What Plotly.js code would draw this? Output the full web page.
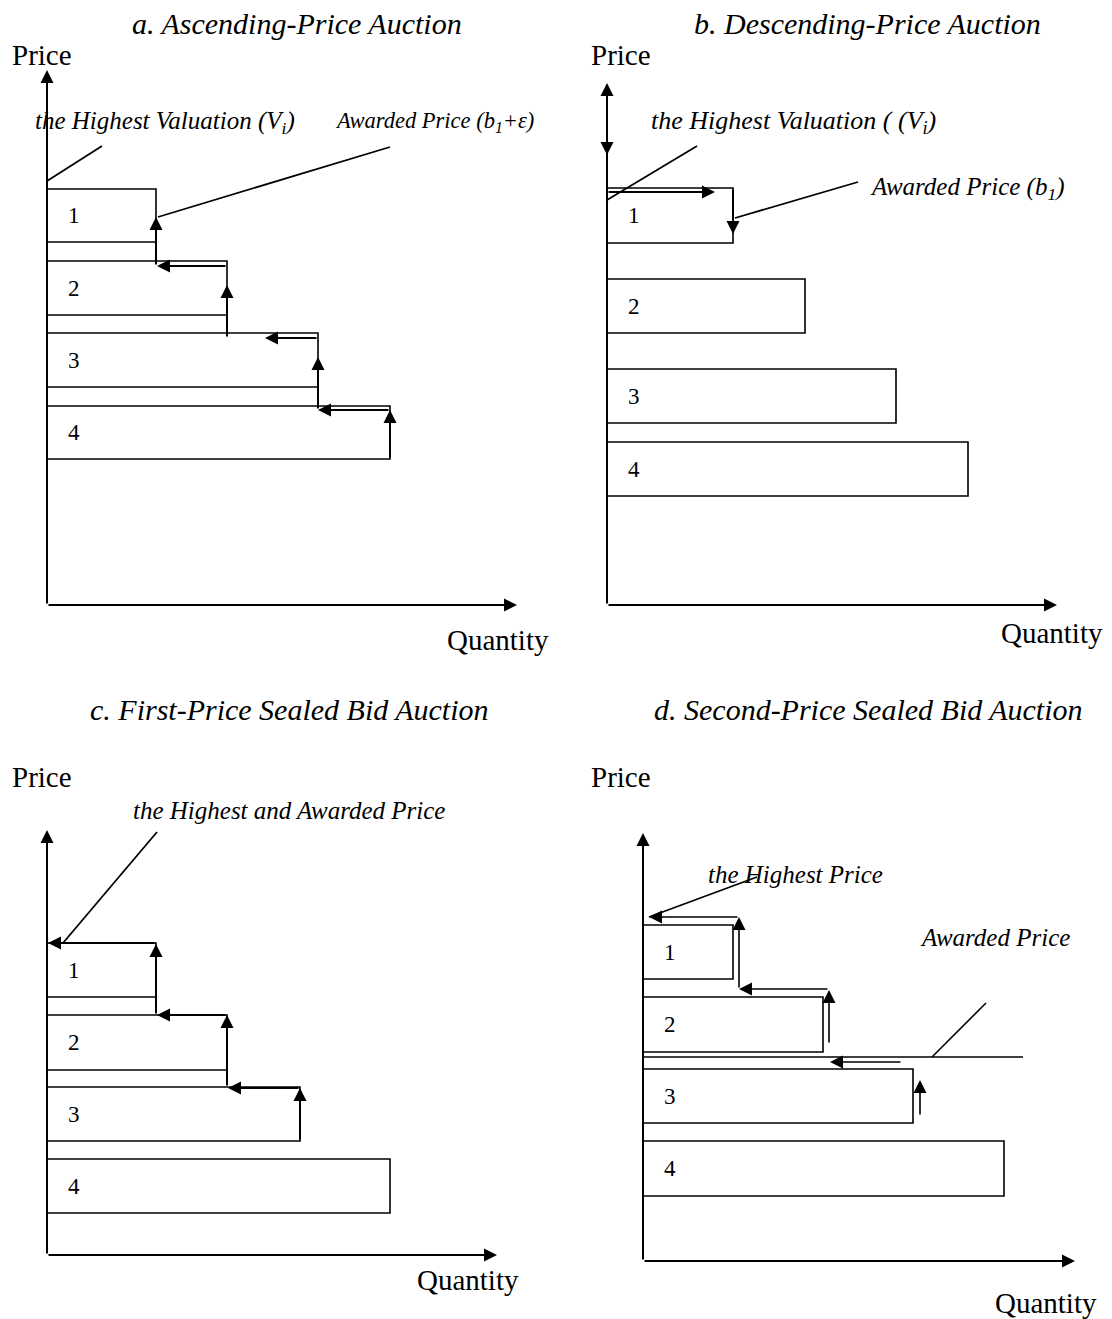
<!DOCTYPE html>
<html><head><meta charset="utf-8">
<script src="https://cdn.plot.ly/plotly-3.0.1.min.js"></script>
<style>html,body{margin:0;padding:0;background:#fff}#chart{width:1112px;height:1319px}</style>
</head><body><div id="chart"></div>
<script>
// ---------- DATA (quantity / price units) ----------
const bidders = ['1','2','3','4'];
const titles = ['a. Ascending-Price Auction','b. Descending-Price Auction','c. First-Price Sealed Bid Auction','d. Second-Price Sealed Bid Auction'];
const yLabel = 'Price';
const xLabel = 'Quantity';

// a. Ascending-price
const aQty = [10.9, 18.0, 27.1, 34.3];
const aTop = [41.6, 34.4, 27.2, 19.9];
const aBot = [36.3, 29.0, 21.8, 14.6];
const aUpX = [10.9, 18.0, 27.1, 34.3];
const aUpFrom = [33.9, 26.7, 19.5, 14.6];
const aUpTo = [38.8, 32.0, 24.8, 19.5];
const aLeftY = [33.9, 26.7, 19.5];
const aLeftFrom = [18.0, 27.1, 34.3];
const aLeftTo = [11.0, 21.8, 27.1];
const aAxisTop = 53.5, aAxisRight = 47.0;
const aLabels = ['the Highest Valuation (V<sub>i</sub>)', 'Awarded Price (b<sub>1</sub>+ε)'];

// b. Descending-price
const bQty = [12.6, 19.8, 28.9, 36.1];
const bTop = [41.7, 32.6, 23.6, 16.3];
const bBot = [36.2, 27.2, 18.2, 10.9];
const bRightY = 41.3, bRightTo = 10.8;
const bDownX = 12.6, bDownFrom = 41.7, bDownTo = 37.1;
const bAxisDownFrom = 46.4, bAxisDownTo = 45.0;
const bAxisTop = 52.2, bAxisRight = 45.0;
const bLabels = ['the Highest Valuation ( (V<sub>i</sub>)', 'Awarded Price (b<sub>1</sub>)'];

// c. First-price sealed bid
const cQty = [10.9, 18.0, 25.3, 34.3];
const cTop = [31.2, 24.0, 16.8, 9.6];
const cBot = [25.8, 18.5, 11.4, 4.2];
const cUpX = [10.9, 18.0, 25.3];
const cUpFrom = [24.0, 16.8, 11.4];
const cUpTo = [31.1, 24.0, 16.7];
const cLeftY = [31.2, 24.0, 16.7];
const cLeftFrom = [10.9, 18.0, 25.3];
const cLeftTo = [0.1, 11.0, 18.1];
const cAxisTop = 42.5, cAxisRight = 45.0;
const cLabels = ['the Highest and Awarded Price'];

// d. Second-price sealed bid
const dQty = [9.0, 18.0, 27.0, 36.1];
const dTop = [33.6, 26.4, 19.2, 12.0];
const dBot = [28.2, 20.9, 13.8, 6.5];
const dUpX = [9.6, 18.6, 27.7];
const dUpFrom = [27.2, 21.7, 14.5];
const dUpTo = [34.4, 27.1, 18.1];
const dLeftY = [34.4, 27.2, 19.9];
const dLeftFrom = [9.6, 18.6, 25.9];
const dLeftTo = [0.6, 9.6, 18.7];
const dAwardY = 20.4, dAwardEnd = 38.0;
const dAxisTop = 42.8, dAxisRight = 43.2;
const dLabels = ['the Highest Price', 'Awarded Price'];

// ---------- LAYOUT FRAMES ----------
const W = 1112, H = 1319, S = 10;
const frames = [
  {ax:'x',  ay:'y',  px:[0,556],    py:[0,659],    ox:47,  oy:605},
  {ax:'x2', ay:'y2', px:[556,1112], py:[0,659],    ox:607, oy:605},
  {ax:'x3', ay:'y3', px:[0,556],    py:[659,1319], ox:47,  oy:1255},
  {ax:'x4', ay:'y4', px:[556,1112], py:[659,1319], ox:643, oy:1261}
];
const FONT = 'Liberation Serif, Times New Roman, serif';
const traces = [], annotations = [];
const layout = {
  width: W, height: H, margin:{l:0,r:0,t:0,b:0},
  paper_bgcolor:'#fff', plot_bgcolor:'rgba(0,0,0,0)', showlegend:false,
  annotations: annotations
};
frames.forEach((f,i)=>{
  const n = i===0 ? '' : String(i+1);
  layout['xaxis'+n] = {domain:[f.px[0]/W, f.px[1]/W], range:[(f.px[0]-f.ox)/S, (f.px[1]-f.ox)/S],
    visible:false, fixedrange:true, anchor:'y'+n};
  layout['yaxis'+n] = {domain:[1-f.py[1]/H, 1-f.py[0]/H], range:[(f.oy-f.py[1])/S, (f.oy-f.py[0])/S],
    visible:false, fixedrange:true, anchor:'x'+n};
});

function line(f, xs, ys, w){
  traces.push({type:'scatter', mode:'lines', x:xs, y:ys, xaxis:f.ax, yaxis:f.ay,
    line:{color:'#000', width:w||1.6}, hoverinfo:'skip', showlegend:false, cliponaxis:false});
}
function arrow(f, x0, y0, x1, y1, w){
  const aw = w || 2;
  annotations.push({xref:f.ax, yref:f.ay, axref:f.ax, ayref:f.ay, x:x1, y:y1, ax:x0, ay:y0,
    text:'', showarrow:true, arrowhead:2, arrowsize:2.6/aw, arrowwidth:aw, arrowcolor:'#000', standoff:0});
}
function txt(f, x, y, s, size, opts){
  annotations.push(Object.assign({xref:f.ax, yref:f.ay, x:x, y:y, text:s, showarrow:false,
    xanchor:'left', yanchor:'middle', font:{family:FONT, size:size, color:'#000'}}, opts||{}));
}
function rects(f, qty, top, bot){
  qty.forEach((q,i)=> line(f, [0,q,q,0,0], [bot[i],bot[i],top[i],top[i],bot[i]], 1.6));
}
function numbers(f, top, bot){
  bidders.forEach((b,i)=> txt(f, 2.7, (top[i]+bot[i])/2, b, 23, {xanchor:'center'}));
}
function frameText(f, k, titlePos, pricePos, qtyPos){
  txt(f, titlePos[0], titlePos[1], titles[k], 30, {xanchor:'center', font:{family:FONT, size:30, color:'#000', style:'italic'}});
  txt(f, pricePos[0], pricePos[1], yLabel, 29);
  txt(f, qtyPos[0], qtyPos[1], xLabel, 29, {xanchor:'center'});
}
function ital(size){ return {family:FONT, size:size, color:'#000', style:'italic'}; }

// ---------- PANEL a ----------
let f = frames[0];
arrow(f, 0, 0, 0, aAxisTop, 2);
arrow(f, 0, 0, aAxisRight, 0, 2);
rects(f, aQty, aTop, aBot);
aUpX.forEach((x,i)=> arrow(f, x, aUpFrom[i], x, aUpTo[i], 2));
aLeftY.forEach((y,i)=> arrow(f, aLeftFrom[i], y, aLeftTo[i], y, 2));
line(f, [0, 5.5], [42.4, 45.9], 1.8);
line(f, [11.1, 34.3], [38.8, 45.8], 1.8);
numbers(f, aTop, aBot);
frameText(f, 0, [25.0, 58.2], [-3.7, 55.0], [45.1, -3.5]);
txt(f, -1.4, 48.3, aLabels[0], 25, {font:ital(25)});
txt(f, 28.6, 48.3, aLabels[1], 22.5, {font:ital(22.5)});

// ---------- PANEL b ----------
f = frames[1];
arrow(f, 0, 0, 0, bAxisTop, 2);
arrow(f, 0, bAxisDownFrom, 0, bAxisDownTo, 2);
arrow(f, 0, 0, bAxisRight, 0, 2);
rects(f, bQty, bTop, bBot);
arrow(f, 0, bRightY, bRightTo, bRightY, 2);
arrow(f, bDownX, bDownFrom, bDownX, bDownTo, 2);
line(f, [0, 9.0], [40.5, 45.9], 1.8);
line(f, [12.8, 25.1], [38.7, 42.3], 1.8);
numbers(f, bTop, bBot);
frameText(f, 1, [26.0, 58.2], [-1.8, 55.0], [44.5, -2.8]);
txt(f, 4.2, 48.3, bLabels[0], 26, {font:ital(26)});
txt(f, 26.1, 41.7, bLabels[1], 25, {font:ital(25)});

// ---------- PANEL c ----------
f = frames[2];
arrow(f, 0, 0, 0, cAxisTop, 2);
arrow(f, 0, 0, cAxisRight, 0, 2);
rects(f, cQty, cTop, cBot);
cUpX.forEach((x,i)=> arrow(f, x, cUpFrom[i], x, cUpTo[i], 2));
cLeftY.forEach((y,i)=> arrow(f, cLeftFrom[i], y, cLeftTo[i], y, 2));
line(f, [11.0, 1.6], [42.3, 31.2], 1.8);
numbers(f, cTop, cBot);
frameText(f, 2, [24.2, 54.6], [-3.7, 47.8], [42.1, -2.5]);
txt(f, 8.4, 44.5, cLabels[0], 25, {font:ital(25)});

// ---------- PANEL d ----------
f = frames[3];
arrow(f, 0, 0, 0, dAxisTop, 2);
arrow(f, 0, 0, dAxisRight, 0, 2);
rects(f, dQty, dTop, dBot);
dUpX.forEach((x,i)=> arrow(f, x, dUpFrom[i], x, dUpTo[i], 1.6));
dLeftY.forEach((y,i)=> arrow(f, dLeftFrom[i], y, dLeftTo[i], y, 1.6));
line(f, [0, dAwardEnd], [dAwardY, dAwardY], 1.6);
line(f, [28.9, 34.3], [dAwardY, 25.8], 1.6);
line(f, [0.6, 11.4], [34.4, 38.4], 1.8);
numbers(f, dTop, dBot);
frameText(f, 3, [22.5, 55.2], [-5.4, 48.4], [40.3, -4.2]);
txt(f, 6.3, 38.7, dLabels[0], 25, {font:ital(25)});
txt(f, 27.5, 32.4, dLabels[1], 25, {font:ital(25)});

Plotly.newPlot('chart', traces, layout, {displayModeBar:false, staticPlot:true});
</script></body></html>
